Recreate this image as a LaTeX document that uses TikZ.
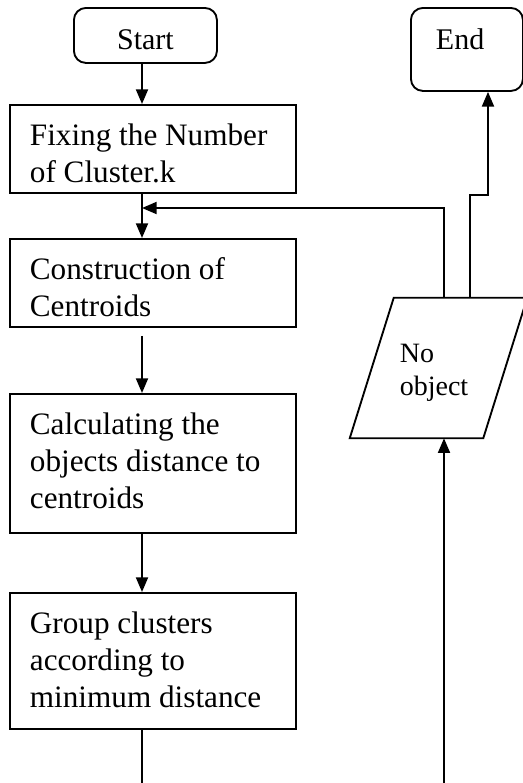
\documentclass[tikz,border=0pt]{standalone}
\usepackage{fontspec}
\setmainfont{Liberation Serif}
\usetikzlibrary{arrows.meta}

\tikzset{
  procbox/.style={draw, line width=1.4pt, anchor=north west, align=flush left,
    text width=184.5pt, inner xsep=15pt, inner ysep=0pt,
    text height=30.75pt, text depth=#1,
    font=\fontsize{23.4}{27.4}\selectfont},
  termbox/.style={draw, line width=1.4pt, rounded corners=9pt,
    anchor=north west, inner ysep=0pt, text height=31.5pt, text depth=#1,
    font=\fontsize{22.5}{26}\selectfont},
  iobox/.style={minimum width=99.75pt, minimum height=105pt, align=flush left,
    text width=58pt, text height=21pt, text depth=29pt,
    font=\fontsize{21}{24.75}\selectfont},
  flow/.style={line width=1.4pt, -{Triangle[length=11pt,width=9pt]}},
  plain/.style={line width=1.4pt},
}

\begin{document}
\begin{tikzpicture}[x=0.75pt, y=-0.75pt]
\useasboundingbox (0,0) rectangle (522,783);

% main column
\node[termbox=9.75pt, minimum width=107.25pt] (start) at (73,7) {Start};
\node[procbox=35.25pt] (fix) at (9,104) {Fixing the Number\\of Cluster.k};
\node[procbox=35.25pt] (cons) at (9,238) {Construction of\\Centroids};
\node[procbox=73.5pt] (calc) at (9,393) {Calculating the\\objects distance to\\centroids};
\node[procbox=71.25pt] (grp) at (9,592) {Group clusters\\according to\\minimum distance};

% right column
\node[termbox=30.75pt, align=flush left, text width=46.5pt, inner xsep=18.75pt]
  (end) at (410,7) {End};
\node[iobox] (noobj) at (438.5,368) {No\\object};
\draw[plain] ([xshift=-16.5pt]noobj.south west) -- ([xshift=-16.5pt]noobj.south east)
  -- ([xshift=16.5pt]noobj.north east) -- ([xshift=16.5pt]noobj.north west) -- cycle;

\coordinate (merge) at (142,208);
\coordinate (loop) at (444,208);
\coordinate (rise) at (470,195);
\coordinate (kink) at (488,195);
\coordinate (footL) at (142,783);
\coordinate (footR) at (444,783);

\draw[flow] (start.south -| merge) -- (fix.north -| merge);
\draw[flow] (fix.south -| merge) -- (cons.north -| merge);
\draw[flow, shorten <=6pt] (cons.south -| merge) -- (calc.north -| merge);
\draw[flow] (calc.south -| merge) -- (grp.north -| merge);
\draw[plain] (grp.south -| merge) -- (footL);

\draw[flow] (footR) -- (noobj.south -| footR);
\draw[flow] (noobj.north -| loop) -- (loop) -- (merge);
\draw[flow] (noobj.north -| rise) -- (rise) -- (kink) -- (kink |- end.south);
\end{tikzpicture}
\end{document}
